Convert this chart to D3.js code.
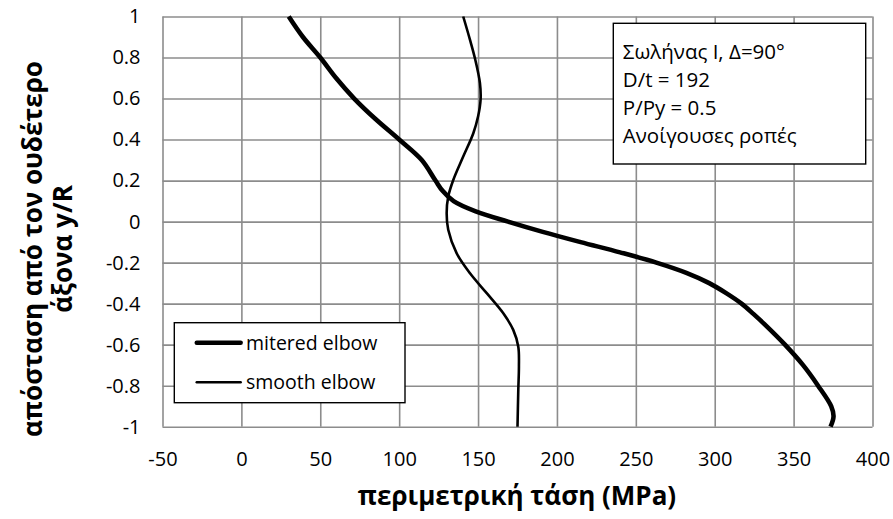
<!DOCTYPE html>
<html>
<head>
<meta charset="utf-8">
<script src="https://cdn.jsdelivr.net/npm/d3@7"></script>
<style>
  html, body { margin: 0; padding: 0; background: #fff; }
  svg { display: block; font-family: "Open Sans", "DejaVu Sans", sans-serif; }
</style>
</head>
<body>
<div id="chart"></div>
<script>
// Circumferential stress along the section depth (y/R) for two elbow types
const yMitered = [1, 0.9, 0.8, 0.7, 0.6, 0.5, 0.4, 0.3, 0.2, 0.15, 0.1, 0.05, 0, -0.05, -0.1, -0.15, -0.2, -0.25, -0.3, -0.35, -0.4, -0.45, -0.5, -0.6, -0.7, -0.8, -0.9, -0.95, -1];
const sMitered = [30, 39, 50, 60, 71.5, 85, 100, 114.3, 123, 127.5, 134.5, 148.5, 169, 191, 215, 240, 263, 282, 296.5, 307.5, 317, 324.5, 331.5, 344.5, 356, 365.5, 373.8, 375.3, 373.4];

const ySmooth = [1, 0.886, 0.797, 0.675, 0.594, 0.512, 0.431, 0.317, 0.203, 0.122, 0.041, -0.04, -0.154, -0.252, -0.349, -0.447, -0.528, -0.61, -0.707, -0.821, -1];
const sSmooth = [140.6, 144.9, 148, 151.2, 151.6, 150, 147, 140.6, 134.3, 131.1, 130.1, 131.1, 136.4, 144.9, 155.5, 166, 172.3, 175.5, 175.9, 175.5, 175];

const xTicks = [-50, 0, 50, 100, 150, 200, 250, 300, 350, 400];
const yTicks = [-1, -0.8, -0.6, -0.4, -0.2, 0, 0.2, 0.4, 0.6, 0.8, 1];

const seriesNames = ["mitered elbow", "smooth elbow"];
const infoLines = ["Σωλήνας Ι, Δ=90°", "D/t = 192", "P/Py = 0.5", "Ανοίγουσες ροπές"];
const xTitle = "περιμετρική τάση (MPa)";
const yTitleLines = ["απόσταση από τον ουδέτερο", "άξονα y/R"];

const W = 893, H = 519;
const margin = { top: 16.5, right: 20.5, bottom: 92.3, left: 162.5 };
const iw = W - margin.left - margin.right;
const ih = H - margin.top - margin.bottom;

const x = d3.scaleLinear().domain([-50, 400]).range([0, iw]);
const y = d3.scaleLinear().domain([-1, 1]).range([ih, 0]);

const svg = d3.select("#chart").append("svg")
  .attr("width", W).attr("height", H);

const g = svg.append("g").attr("transform", `translate(${margin.left},${margin.top})`);

const gridColor = "#8c8c8c";

// vertical grid
g.append("g")
  .attr("transform", `translate(0,${ih})`)
  .call(d3.axisBottom(x).tickValues(xTicks).tickSize(-ih).tickFormat(""))
  .call(s => s.select(".domain").remove())
  .call(s => s.selectAll("line").attr("stroke", gridColor).attr("stroke-width", 1.6));

// horizontal grid
g.append("g")
  .call(d3.axisLeft(y).tickValues(yTicks).tickSize(-iw).tickFormat(""))
  .call(s => s.select(".domain").remove())
  .call(s => s.selectAll("line").attr("stroke", gridColor).attr("stroke-width", 1.6));

// x tick labels (plain hyphen for negatives)
g.append("g")
  .attr("transform", `translate(0,${ih})`)
  .call(d3.axisBottom(x).tickValues(xTicks).tickSize(0).tickPadding(25).tickFormat(d => String(d)))
  .call(s => s.select(".domain").remove())
  .call(s => s.selectAll("text").attr("font-size", 20).attr("fill", "#000")
    .attr("font-family", "'Open Sans', sans-serif"));

// y tick labels
g.append("g")
  .call(d3.axisLeft(y).tickValues(yTicks).tickSize(0).tickPadding(22).tickFormat(d => String(d)))
  .call(s => s.select(".domain").remove())
  .call(s => s.selectAll("text").attr("font-size", 20).attr("fill", "#000")
    .attr("font-family", "'Open Sans', sans-serif"));

// data lines (smoothed)
const line = d3.line()
  .x(d => x(d[0]))
  .y(d => y(d[1]))
  .curve(d3.curveCatmullRom.alpha(0.5));

const mitered = sMitered.map((v, i) => [v, yMitered[i]]);
const smooth = sSmooth.map((v, i) => [v, ySmooth[i]]);

g.append("path").datum(smooth)
  .attr("d", line).attr("fill", "none")
  .attr("stroke", "#000").attr("stroke-width", 2.6).attr("stroke-linecap", "butt");

g.append("path").datum(mitered)
  .attr("d", line).attr("fill", "none")
  .attr("stroke", "#000").attr("stroke-width", 4.6).attr("stroke-linecap", "butt")
  .attr("stroke-linejoin", "round");

// annotation box
const info = svg.append("g").attr("transform", "translate(613.3,23.3)");
info.append("rect").attr("width", 252.4).attr("height", 140.7)
  .attr("fill", "#fff").attr("stroke", "#000").attr("stroke-width", 1.4);
info.selectAll("text").data(infoLines).join("text")
  .attr("x", 9.5).attr("y", (d, i) => 35.7 + i * 28)
  .attr("font-size", 20.5).attr("fill", "#000")
  .text(d => d);

// legend
const leg = svg.append("g").attr("transform", "translate(174.3,322.7)");
leg.append("rect").attr("width", 230.7).attr("height", 80)
  .attr("fill", "#fff").attr("stroke", "#000").attr("stroke-width", 1.4);
const legItems = leg.selectAll("g.item").data(seriesNames).join("g")
  .attr("class", "item")
  .attr("transform", (d, i) => `translate(0,${20 + i * 39.6})`);
legItems.append("line")
  .attr("x1", 22.4).attr("x2", 66.4)
  .attr("stroke", "#000").attr("stroke-width", (d, i) => i === 0 ? 4.4 : 2.4)
  .attr("stroke-linecap", "round");
legItems.append("text")
  .attr("x", 71.7).attr("dy", "0.36em")
  .attr("font-size", 19.5).attr("fill", "#000")
  .text(d => d);

// axis titles
svg.append("text")
  .attr("x", 517).attr("y", 505)
  .attr("text-anchor", "middle")
  .attr("font-size", 26).attr("font-weight", "bold").attr("fill", "#000")
  .text(xTitle);

const yt = svg.append("g").attr("transform", "translate(0,249) rotate(-90)");
yt.selectAll("text").data(yTitleLines).join("text")
  .attr("x", 0).attr("y", (d, i) => 42 + i * 30)
  .attr("text-anchor", "middle")
  .attr("font-size", 26).attr("font-weight", "bold").attr("fill", "#000")
  .text(d => d);
</script>
</body>
</html>
